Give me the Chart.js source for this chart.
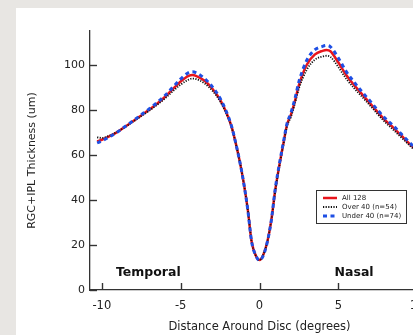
<!DOCTYPE html>
<html><head><meta charset="utf-8">
<script src="https://cdn.jsdelivr.net/npm/chart.js@4"></script>
<style>
html,body{margin:0;padding:0;width:413px;height:335px;overflow:hidden;background:#e8e6e3;}
#panel{position:absolute;left:16px;top:8px;width:500px;height:400px;background:#fff;}
#c{position:absolute;left:0;top:0;}
</style></head><body>
<div id="panel"></div>
<canvas id="c" width="450" height="335"></canvas>
<script>
// Distance around disc (degrees)
const distance = [-10.3,-10,-9.5,-9,-8.5,-8,-7.5,-7,-6.5,-6,-5.5,-5,-4.5,-4.25,-4,-3.5,-3,-2.5,-2,-1.75,-1.5,-1.25,-1,-0.75,-0.5,-0.25,0,0.25,0.5,0.75,1,1.25,1.5,1.75,2,2.25,2.5,3,3.5,4,4.25,4.5,5,5.5,6,6.5,7,7.5,8,8.5,9,9.5,10,10.5];
// RGC+IPL thickness (um)
const all128 = [66,66.7,68.3,70.2,72.6,75,77.5,80,82.7,85.7,89.2,92.6,95.1,95.5,95.0,93,89.5,84.5,77,72,65,57,47.5,36,21.5,15.5,13.3,15.8,21.5,31,44.5,55,64.5,73.5,78,84,91,100,104.5,106.2,106.6,106.0,101,95.5,91,87,83,79,75.2,72,68.5,65,61.8,59];
const over40 = [67.8,67.5,68.6,70.3,72.5,74.8,77.2,79.6,82.2,85,88.2,91.2,93.4,93.9,93.6,91.8,88.6,83.8,76.6,71.8,65,57,47.5,36,21.5,15.5,13.3,15.8,21.5,31,44,54.5,64,72.8,77,83,89.5,97.8,102.2,103.7,104.0,103.5,99,93.8,89.6,85.8,82,78,74.3,71,67.7,64.3,61.2,58.5];
const under40 = [65.3,66.2,68.1,70.2,72.7,75.2,77.8,80.4,83.2,86.3,90,93.7,96.5,96.9,96.4,94,90.3,85.1,77.4,72.2,65,57,47.5,36,21.5,15.5,13.2,15.5,21.5,31,45,55.5,65,74,78.8,85,92.5,102,106.6,108.2,108.6,108.0,103,97,92.3,88,84,79.8,76,72.8,69.2,65.6,62.3,59.4];
const seriesLabels = ['All 128','Over 40 (n=54)','Under 40 (n=74)'];
const yTicks = [0,20,40,60,80,100];
const xTicks = [-10,-5,0,5,10];
const regionLabels = ['Temporal','Nasal'];

const FONT = '"DejaVu Sans", Verdana, sans-serif';
const RED = '#e8151c', BLACK = '#111111', BLUE = '#1e4fe4';

const extras = {
  id: 'extras',
  afterDraw(chart) {
    const {ctx, scales: {x, y}, chartArea: a} = chart;
    ctx.save();
    ctx.setLineDash([]);
    // inward tick marks
    ctx.strokeStyle = '#333'; ctx.lineWidth = 1.4;
    yTicks.forEach(v => { const p = Math.round(y.getPixelForValue(v)) + 0.5; ctx.beginPath(); ctx.moveTo(a.left, p); ctx.lineTo(a.left + 7, p); ctx.stroke(); });
    xTicks.forEach(v => { const p = Math.round(x.getPixelForValue(v)) + 0.5; ctx.beginPath(); ctx.moveTo(p, a.bottom); ctx.lineTo(p, a.bottom - 7); ctx.stroke(); });
    // region labels
    ctx.fillStyle = '#111'; ctx.font = 'bold 12.5px ' + FONT; ctx.textAlign = 'center'; ctx.textBaseline = 'middle';
    ctx.fillText(regionLabels[0], x.getPixelForValue(-7.05), y.getPixelForValue(7.5));
    ctx.fillText(regionLabels[1], x.getPixelForValue(6.0), y.getPixelForValue(7.5));
    // legend box
    const bx = a.left + 226, by = a.top + 159, bw = 90, bh = 33;
    ctx.fillStyle = '#fff'; ctx.fillRect(bx, by, bw, bh);
    ctx.strokeStyle = '#333'; ctx.lineWidth = 1; ctx.strokeRect(bx + 0.5, by + 0.5, bw, bh);
    const styles = [
      {c: RED, w: 2.5, d: []},
      {c: BLACK, w: 1.8, d: [1.2, 1.4]},
      {c: BLUE, w: 3, d: [4, 3.5]}
    ];
    ctx.font = '7px ' + FONT; ctx.textAlign = 'left'; ctx.textBaseline = 'middle';
    seriesLabels.forEach((lab, i) => {
      const ry = by + 8 + i * 9;
      const s = styles[i];
      ctx.strokeStyle = s.c; ctx.lineWidth = s.w; ctx.setLineDash(s.d);
      ctx.beginPath(); ctx.moveTo(bx + 7, ry); ctx.lineTo(bx + 21, ry); ctx.stroke();
      ctx.setLineDash([]);
      ctx.fillStyle = '#222'; ctx.fillText(lab, bx + 26, ry + 0.5);
    });
    ctx.restore();
  }
};

const pts = arr => distance.map((d, i) => ({x: d, y: arr[i]}));

new Chart(document.getElementById('c'), {
  type: 'line',
  data: {
    datasets: [
      {label: seriesLabels[2], data: pts(under40), borderColor: BLUE, borderWidth: 3, borderDash: [4, 3.5]},
      {label: seriesLabels[1], data: pts(over40), borderColor: BLACK, borderWidth: 1.8, borderDash: [1.2, 1.4]},
      {label: seriesLabels[0], data: pts(all128), borderColor: RED, borderWidth: 2.5}
    ]
  },
  options: {
    responsive: false, animation: false, devicePixelRatio: 1,
    layout: {padding: {top: 31, left: 0, right: 21, bottom: 0}},
    plugins: {legend: {display: false}, tooltip: {enabled: false}},
    elements: {point: {radius: 0}, line: {tension: 0.4, cubicInterpolationMode: 'monotone', fill: false}},
    scales: {
      x: {
        type: 'linear', min: -10.75, max: 10.75,
        grid: {display: false, drawTicks: false},
        border: {display: true, color: '#333', width: 1.3},
        ticks: {padding: 9, color: '#222', maxRotation: 0, font: {family: FONT, size: 11.5}},
        afterBuildTicks(s) { s.ticks = xTicks.map(v => ({value: v})); },
        afterFit(s) { s.height = 45; },
        title: {display: true, text: 'Distance Around Disc (degrees)', color: '#222', font: {family: FONT, size: 11.5}, padding: {top: 0, bottom: 1}}
      },
      y: {
        type: 'linear', min: 0, max: 115,
        grid: {display: false, drawTicks: false},
        border: {display: true, color: '#333', width: 1.3},
        ticks: {padding: 5, color: '#222', font: {family: FONT, size: 11}},
        afterBuildTicks(s) { s.ticks = yTicks.map(v => ({value: v})); },
        afterFit(s) { s.width = 90; },
        title: {display: true, text: 'RGC+IPL Thickness (um)', color: '#222', font: {family: FONT, size: 11}, padding: {top: 26, bottom: 0}}
      }
    }
  },
  plugins: [extras]
});
</script>
</body></html>
